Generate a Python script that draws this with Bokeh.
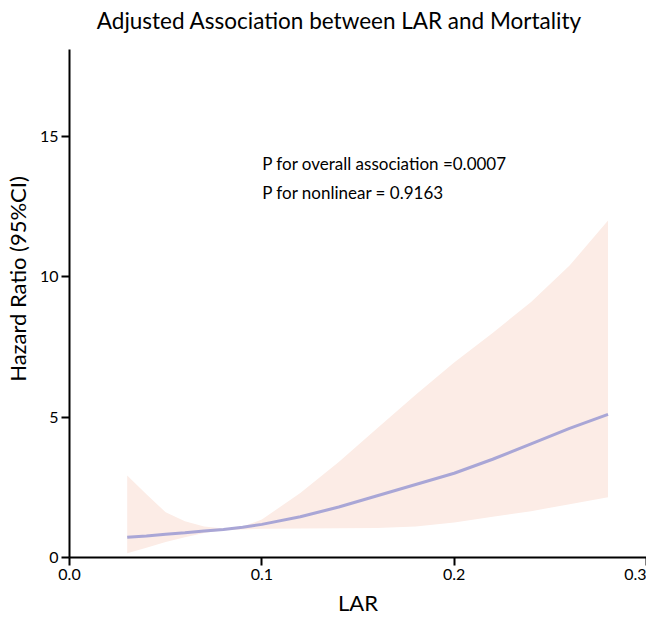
from bokeh.plotting import figure
from bokeh.models import Range1d, Label, FixedTicker
from bokeh.embed import file_html
from bokeh.resources import INLINE

lar = [0.03, 0.04, 0.05, 0.06, 0.07, 0.08, 0.09, 0.10, 0.12, 0.14, 0.16, 0.18, 0.20, 0.22, 0.24, 0.26, 0.28]
hr = [0.72, 0.77, 0.83, 0.88, 0.94, 1.00, 1.08, 1.18, 1.45, 1.80, 2.20, 2.60, 3.00, 3.50, 4.05, 4.60, 5.10]
upper = [2.92, 2.25, 1.61, 1.29, 1.10, 1.03, 1.10, 1.35, 2.30, 3.40, 4.60, 5.80, 6.95, 8.00, 9.10, 10.40, 12.00]
lower = [0.15, 0.35, 0.55, 0.72, 0.87, 0.97, 1.00, 1.02, 1.03, 1.04, 1.05, 1.10, 1.25, 1.45, 1.65, 1.90, 2.15]
x_ticks = [0.0, 0.1, 0.2, 0.3]
y_ticks = [0, 5, 10, 15]
title_text = "Adjusted Association between LAR and Mortality"
annotations = ["P for overall association =0.0007", "P for nonlinear = 0.9163"]

FONT = "Lato"
Y_AXIS_TOP = 18.1

p = figure(width=646, height=621, output_backend="svg", toolbar_location=None,
           x_range=Range1d(0, 0.3), y_range=Range1d(0, 19.84),
           min_border_left=68, min_border_right=0, min_border_top=0, min_border_bottom=64)

p.varea(x=lar, y1=lower, y2=upper, fill_color="#FCECE6", fill_alpha=1.0)
p.line(x=lar, y=hr, line_color="#A9A6D6", line_width=3)

p.outline_line_color = None
p.grid.visible = False
p.background_fill_color = "white"
p.border_fill_color = "white"

for ax in (p.xaxis[0], p.yaxis[0]):
    ax.axis_line_color = "black"
    ax.axis_line_width = 2
    ax.major_tick_line_color = "black"
    ax.major_tick_line_width = 2
    ax.major_tick_out = 8
    ax.major_tick_in = 0
    ax.minor_tick_line_color = None
    ax.major_label_text_font = FONT
    ax.major_label_text_font_size = "16px"
    ax.major_label_text_color = "black"
    ax.axis_label_text_font = FONT
    ax.axis_label_text_font_size = "22px"
    ax.axis_label_text_font_style = "normal"
    ax.axis_label_text_color = "black"

p.yaxis[0].bounds = (0, Y_AXIS_TOP)
p.xaxis[0].ticker = FixedTicker(ticks=x_ticks)
p.yaxis[0].ticker = FixedTicker(ticks=y_ticks)
p.xaxis[0].major_label_overrides = {t: f"{t:.1f}" for t in x_ticks}
p.xaxis[0].axis_label = "LAR"
p.yaxis[0].axis_label = "Hazard Ratio (95%CI)"
p.xaxis[0].major_label_standoff = 3
p.yaxis[0].major_label_standoff = 3
p.xaxis[0].axis_label_standoff = 6
p.yaxis[0].axis_label_standoff = 6

# chart title
p.add_layout(Label(x=0.0142, y=19.13, text=title_text, text_font=FONT,
                   text_font_size="22.5px", text_baseline="alphabetic", text_color="black"))

for i, t in enumerate(annotations):
    p.add_layout(Label(x=0.1002, y=14.04 - i * 1.04, text=t, text_font=FONT,
                       text_font_size="17px", text_baseline="middle", text_color="black"))

open("out.html", "w").write(file_html(p, INLINE))
